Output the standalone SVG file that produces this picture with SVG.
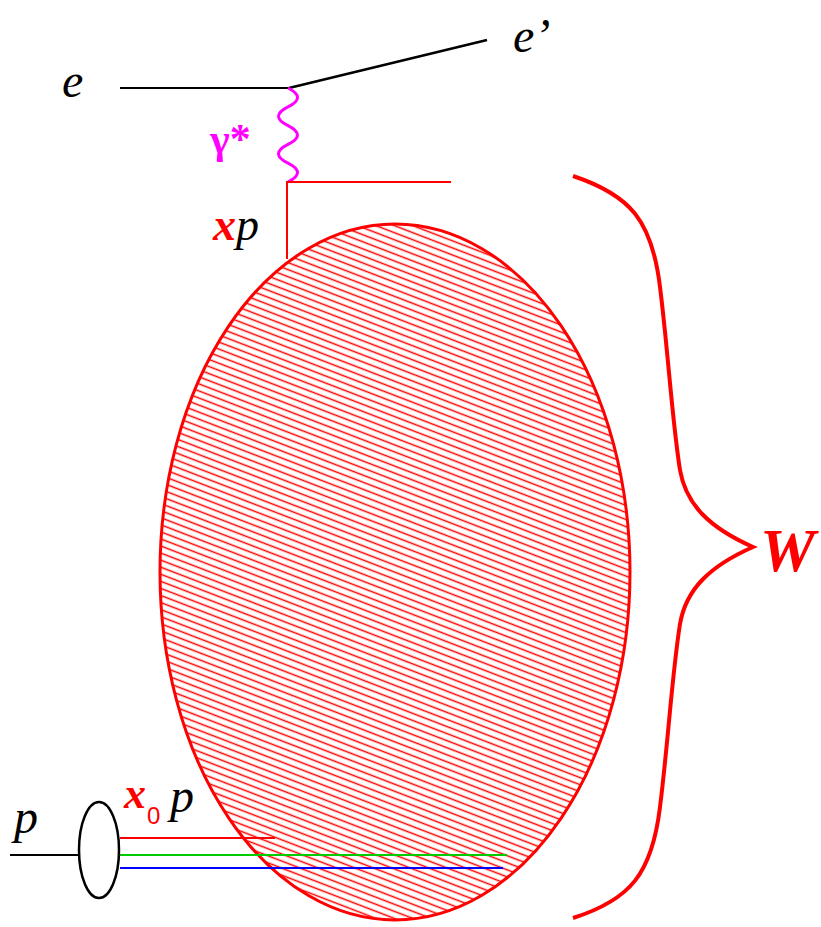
<svg xmlns="http://www.w3.org/2000/svg" width="821" height="927" viewBox="0 0 821 927">
<style>
.lbl{font-family:"Liberation Serif","Times New Roman",serif;font-style:italic}
.blk{fill:#000}
.red{fill:#ff0000}
</style>
<defs>
<pattern id="hatch" patternUnits="userSpaceOnUse" width="12" height="6.6" patternTransform="rotate(21)">
<line x1="0" y1="3.3" x2="12" y2="3.3" stroke="#ff0000" stroke-width="1.5"/>
</pattern>
</defs>
<rect width="821" height="927" fill="#fff"/>
<g id="blob">
<ellipse cx="395" cy="572" rx="235" ry="348" fill="url(#hatch)" stroke="#ff0000" stroke-width="3"/>
</g>
<g id="connectors" fill="none">
<line x1="120" y1="88" x2="289" y2="88" stroke="#000" stroke-width="2"/>
<line x1="289" y1="88" x2="487" y2="40" stroke="#000" stroke-width="2.5"/>
<path d="M288,88 q19,9.4 0,18.8 t0,18.8 t0,18.8 t0,18.8 t0,18.8" stroke="#ff00ff" stroke-width="3"/>
<polyline points="451,182 287,182 287,259" stroke="#ff0000" stroke-width="2"/>
<line x1="10" y1="855" x2="79" y2="855" stroke="#000" stroke-width="2"/>
<line x1="120" y1="838" x2="275" y2="838" stroke="#ff0000" stroke-width="2"/>
<line x1="120" y1="855" x2="507" y2="855" stroke="#00cc00" stroke-width="2"/>
<line x1="120" y1="868" x2="503" y2="868" stroke="#0000ff" stroke-width="2"/>
<path d="M573,176 C630,195 652,220 660,287 C668,350 672,420 680,470 C686,505 710,528 753,547 C710,566 686,589 680,624 C672,674 668,744 660,807 C652,874 630,900 573,918" stroke="#ff0000" stroke-width="4"/>
</g>
<g id="proton">
<ellipse cx="99" cy="850" rx="20" ry="48" fill="none" stroke="#000" stroke-width="2.5"/>
</g>
<g id="labels">
<text class="lbl blk" x="62" y="97" font-size="48">e</text>
<text class="lbl blk" x="513" y="52" font-size="48">e’</text>
<text x="210" y="153" font-family="'Liberation Serif',serif" font-weight="bold" font-size="42" fill="#ff00ff">γ*</text>
<text class="lbl" x="213" y="240" font-size="46"><tspan class="red" font-weight="bold">x</tspan><tspan class="blk">p</tspan></text>
<text class="lbl blk" x="14" y="833" font-size="48">p</text>
<text class="lbl" x="124" y="808" font-size="44"><tspan class="red" font-weight="bold">x</tspan></text>
<text x="147" y="824" font-family="'Liberation Sans',sans-serif" font-size="24" fill="#ff0000">0</text>
<text class="lbl blk" x="170" y="812" font-size="48">p</text>
<text class="lbl red" x="760" y="571" font-size="62" font-weight="bold">W</text>
</g>
</svg>
